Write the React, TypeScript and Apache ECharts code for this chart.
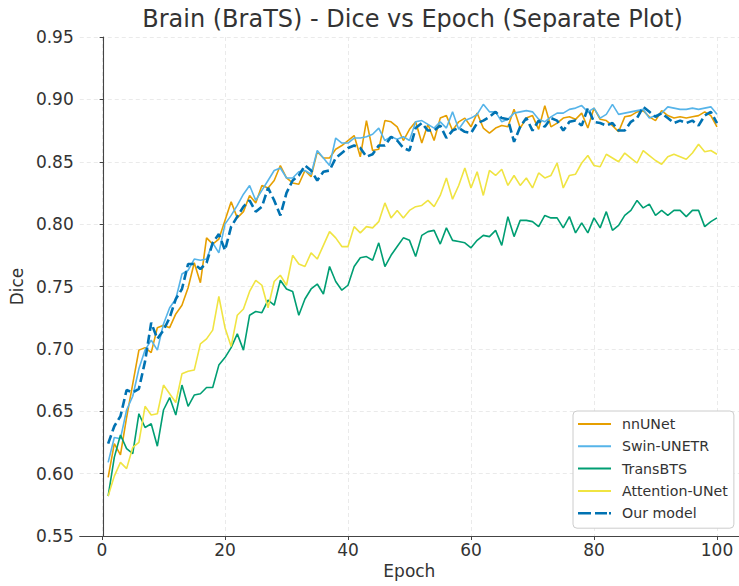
import React, { useEffect, useRef } from "react";
import * as echarts from "echarts";

const epochs: number[] = Array.from({ length: 100 }, (_, i) => i + 1);

const nnUNet: number[] = [
  0.597, 0.624, 0.615, 0.645, 0.672, 0.699, 0.701, 0.697, 0.717, 0.719,
  0.717, 0.728, 0.735, 0.749, 0.769, 0.753, 0.789, 0.784, 0.788, 0.803,
  0.818, 0.805, 0.81, 0.823, 0.817, 0.831, 0.829, 0.835, 0.847, 0.837,
  0.833, 0.832, 0.843, 0.838, 0.858, 0.853, 0.853, 0.86, 0.863, 0.867,
  0.871, 0.854, 0.883, 0.859, 0.86, 0.883, 0.882, 0.878, 0.867, 0.876,
  0.882, 0.865, 0.88, 0.867, 0.885, 0.887, 0.875, 0.882, 0.885, 0.878,
  0.889, 0.877, 0.873, 0.877, 0.879, 0.878, 0.892, 0.877, 0.885, 0.887,
  0.876, 0.895, 0.878, 0.881, 0.885, 0.886, 0.884, 0.889, 0.877, 0.893,
  0.884, 0.883, 0.879, 0.874, 0.886, 0.887, 0.89, 0.891, 0.886, 0.883,
  0.891, 0.887, 0.885, 0.886, 0.885, 0.886, 0.887, 0.89, 0.887, 0.878,
];

const swinUNETR: number[] = [
  0.609, 0.629, 0.628, 0.651, 0.662, 0.684, 0.699, 0.707, 0.699, 0.72,
  0.733, 0.74, 0.76, 0.763, 0.772, 0.771, 0.772, 0.785, 0.777, 0.8,
  0.807, 0.815, 0.824, 0.831, 0.819, 0.827, 0.835, 0.843, 0.845, 0.837,
  0.837, 0.842, 0.843, 0.84, 0.859, 0.853, 0.847, 0.869, 0.865, 0.865,
  0.869, 0.869, 0.87, 0.872, 0.877, 0.867, 0.87, 0.868, 0.87, 0.867,
  0.882, 0.883, 0.88, 0.877, 0.882, 0.877, 0.89, 0.876, 0.883, 0.885,
  0.888, 0.896, 0.89, 0.89, 0.882, 0.884, 0.889, 0.89, 0.891, 0.89,
  0.884, 0.882, 0.886, 0.889, 0.889, 0.892, 0.893, 0.895, 0.89, 0.893,
  0.885, 0.888, 0.896, 0.888, 0.889, 0.89, 0.891, 0.892, 0.885, 0.887,
  0.889, 0.894, 0.893, 0.892, 0.892, 0.893, 0.892, 0.893, 0.894, 0.888,
];

const transBTS: number[] = [
  0.582, 0.613, 0.631, 0.62, 0.616, 0.648, 0.637, 0.64, 0.622, 0.651,
  0.661, 0.647, 0.671, 0.654, 0.663, 0.664, 0.669, 0.669, 0.687, 0.693,
  0.701, 0.712, 0.699, 0.727, 0.73, 0.729, 0.739, 0.735, 0.755, 0.748,
  0.746, 0.727, 0.74, 0.748, 0.752, 0.744, 0.766, 0.754, 0.747, 0.751,
  0.766, 0.773, 0.774, 0.771, 0.785, 0.766, 0.775, 0.782, 0.789, 0.787,
  0.774, 0.791, 0.794, 0.795, 0.784, 0.797, 0.787, 0.786, 0.785, 0.781,
  0.787, 0.791, 0.79, 0.795, 0.783, 0.806, 0.79, 0.803, 0.803, 0.802,
  0.798, 0.807, 0.805, 0.805, 0.797, 0.806, 0.793, 0.801, 0.793, 0.805,
  0.797, 0.81, 0.795, 0.799, 0.807, 0.811, 0.819, 0.813, 0.816, 0.807,
  0.811, 0.807, 0.811, 0.811, 0.806, 0.811, 0.811, 0.798, 0.802, 0.805,
];

const attentionUNet: number[] = [
  0.582, 0.598, 0.609, 0.604, 0.621, 0.625, 0.654, 0.647, 0.648, 0.671,
  0.664, 0.657, 0.68, 0.682, 0.683, 0.704, 0.708, 0.715, 0.742, 0.717,
  0.702, 0.727, 0.732, 0.746, 0.755, 0.751, 0.733, 0.754, 0.759, 0.751,
  0.775, 0.768, 0.766, 0.777, 0.772, 0.783, 0.794, 0.789, 0.782, 0.782,
  0.798, 0.793, 0.798, 0.797, 0.802, 0.817, 0.805, 0.811, 0.805, 0.811,
  0.814, 0.815, 0.819, 0.814, 0.823, 0.837, 0.82, 0.831, 0.845, 0.829,
  0.842, 0.823, 0.843, 0.839, 0.844, 0.831, 0.839, 0.831, 0.837, 0.829,
  0.841, 0.837, 0.839, 0.849, 0.829, 0.839, 0.84, 0.849, 0.855, 0.847,
  0.846, 0.856, 0.853, 0.85, 0.857, 0.853, 0.849, 0.859, 0.855, 0.851,
  0.848, 0.854, 0.856, 0.854, 0.852, 0.857, 0.864, 0.858, 0.859, 0.856,
];

const ourModel: number[] = [
  0.624, 0.638, 0.646, 0.667, 0.665, 0.668, 0.69, 0.721, 0.708, 0.715,
  0.725, 0.74, 0.748, 0.768, 0.768, 0.764, 0.769, 0.785, 0.792, 0.779,
  0.798, 0.806, 0.814, 0.819, 0.81, 0.814, 0.829, 0.819, 0.807, 0.825,
  0.835, 0.839, 0.847, 0.843, 0.835, 0.842, 0.843, 0.853, 0.857, 0.861,
  0.863, 0.861, 0.854, 0.856, 0.863, 0.863, 0.87, 0.867, 0.861, 0.859,
  0.877, 0.881, 0.875, 0.875, 0.879, 0.869, 0.875, 0.877, 0.874, 0.873,
  0.881, 0.883, 0.886, 0.89, 0.885, 0.884, 0.866, 0.878, 0.885, 0.875,
  0.883, 0.878, 0.885, 0.883, 0.875, 0.882, 0.883, 0.879, 0.893, 0.882,
  0.881, 0.879, 0.881, 0.875, 0.875, 0.882, 0.885, 0.894, 0.89, 0.886,
  0.889, 0.885, 0.881, 0.883, 0.881, 0.883, 0.879, 0.887, 0.89, 0.881,
];

const seriesNames: string[] = ["nnUNet", "Swin-UNETR", "TransBTS", "Attention-UNet", "Our model"];
const seriesColors: string[] = ["#E69F00", "#56B4E9", "#009E73", "#F0E442", "#0072B2"];
const seriesValues: number[][] = [nnUNet, swinUNETR, transBTS, attentionUNet, ourModel];

const xTicks = { min: 0, max: 100, step: 20 };
const yTicks = { min: 0.55, max: 0.95, step: 0.05 };

const FONT = "DejaVu Sans";
const TEXT = "#333333";

const SOLID_ICON = "path://M0,0H33V2H0Z";
const DASH_ICON = "path://M0,0H13V2.6H0Z M17,0H29V2.6H17Z M31,0H33V2.6H31Z";

export default function App() {
  const ref = useRef<HTMLDivElement>(null);

  useEffect(() => {
    if (!ref.current) return;
    const chart = echarts.init(ref.current, undefined, { renderer: "svg" });

    const gridLine = { show: true, lineStyle: { color: "#e4e4e4", type: [4, 3] as any, width: 0.8 } };

    const series = seriesNames.map((name, k) => ({
      name,
      type: "line" as const,
      xAxisIndex: 1,
      yAxisIndex: 1,
      data: epochs.map((e, i) => [e, seriesValues[k][i]]),
      symbol: "none",
      smooth: false,
      color: seriesColors[k],
      lineStyle: {
        color: seriesColors[k],
        width: k === 4 ? 2.6 : 1.6,
        type: k === 4 ? ([9, 4] as any) : "solid",
      },
      z: 2 + k,
    }));

    chart.setOption({
      animation: false,
      backgroundColor: "#ffffff",
      textStyle: { fontFamily: FONT },
      graphic: [
        {
          type: "text",
          x: 412.5,
          y: 19,
          style: {
            text: "Brain (BraTS) - Dice vs Epoch (Separate Plot)",
            fontSize: 24,
            fontFamily: FONT,
            fill: TEXT,
            align: "center",
            verticalAlign: "middle",
          },
        },
      ],
      grid: [
        { left: 78, top: 37, width: 669, height: 499, containLabel: false },
        { left: 102, top: 37, width: 615, height: 499, containLabel: false },
      ],
      xAxis: [
        {
          type: "value",
          gridIndex: 0,
          min: -3.95,
          max: 104.95,
          axisLine: { show: true, lineStyle: { color: "#444", width: 1.1 } },
          axisTick: { show: false },
          axisLabel: { show: false },
          splitLine: { show: false },
          name: "Epoch",
          nameLocation: "middle",
          nameGap: 26,
          nameTextStyle: { fontSize: 17, color: TEXT, fontFamily: FONT },
        },
        {
          type: "value",
          gridIndex: 1,
          min: xTicks.min,
          max: xTicks.max,
          interval: xTicks.step,
          axisLine: { show: false },
          axisTick: { show: true, inside: false, length: 4, lineStyle: { color: "#444", width: 1 } },
          axisLabel: { show: true, margin: 5, fontSize: 17, color: TEXT, fontFamily: FONT },
          splitLine: gridLine,
        },
      ],
      yAxis: [
        {
          type: "value",
          gridIndex: 0,
          min: yTicks.min,
          max: yTicks.max,
          interval: yTicks.step,
          axisLine: { show: true, lineStyle: { color: "#444", width: 1.1 } },
          axisTick: { show: true, inside: false, length: 4, lineStyle: { color: "#444", width: 1 } },
          axisLabel: {
            show: true,
            margin: 6,
            fontSize: 17,
            color: TEXT,
            fontFamily: FONT,
            formatter: (v: number) => v.toFixed(2),
          },
          splitLine: gridLine,
          name: "Dice",
          nameLocation: "middle",
          nameGap: 51,
          nameTextStyle: { fontSize: 17, color: TEXT, fontFamily: FONT },
        },
        {
          type: "value",
          gridIndex: 1,
          min: yTicks.min,
          max: yTicks.max,
          show: false,
          splitLine: { show: false },
        },
      ],
      legend: {
        show: true,
        orient: "vertical",
        left: 573,
        top: 411,
        data: seriesNames.map((name, k) => ({ name, icon: k === 4 ? DASH_ICON : SOLID_ICON })),
        itemWidth: 33,
        itemHeight: 14,
        itemGap: 8.3,
        symbolKeepAspect: true,
        padding: [6, 6, 8, 5],
        backgroundColor: "#ffffff",
        borderColor: "#cccccc",
        borderWidth: 1,
        borderRadius: 4,
        textStyle: { fontSize: 14.2, color: TEXT, fontFamily: FONT, padding: [0, 0, 0, 6] },
      },
      series,
    });

    return () => chart.dispose();
  }, []);

  return (
    <div
      ref={ref}
      style={{ position: "fixed", left: 0, top: 0, width: 739, height: 586 }}
    />
  );
}
